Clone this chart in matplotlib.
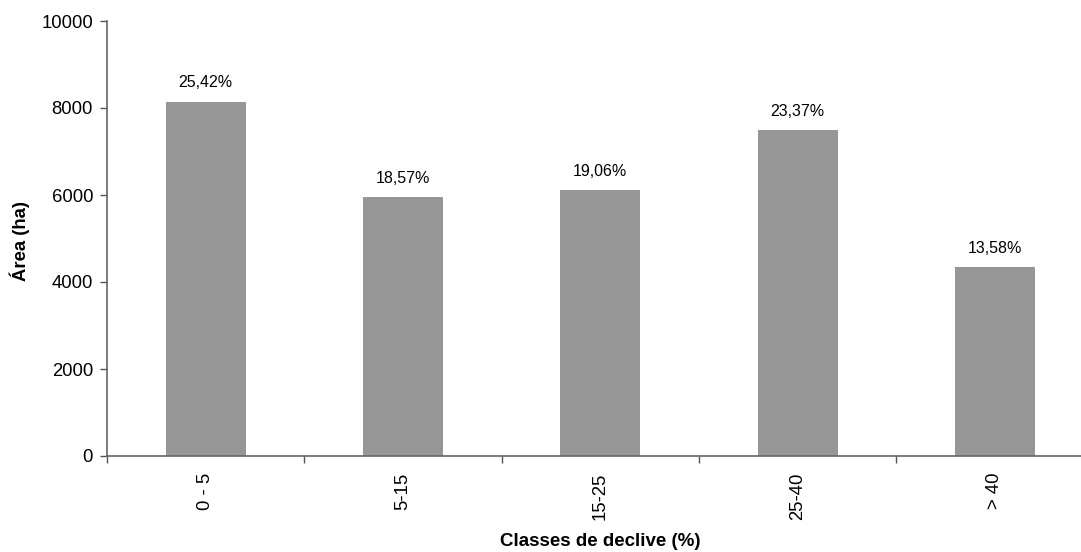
import numpy as np
import matplotlib.pyplot as plt

plt.rcParams['font.family'] = ['Liberation Sans', 'DejaVu Sans']

classes = ['0 - 5', '5-15', '15-25', '25-40', '> 40']
area_ha = [8147, 5952, 6109, 7490, 4352]
pct_labels = ['25,42%', '18,57%', '19,06%', '23,37%', '13,58%']

fig = plt.figure(figsize=(10.81, 5.52), dpi=100, facecolor='white')
ax = fig.add_axes([107 / 1081, 96 / 552, 986.5 / 1081, 435 / 552])

x = np.arange(len(classes))
bars = ax.bar(x, area_ha, width=0.405, color='#969696', zorder=2)

for b, lab in zip(bars, pct_labels):
    ax.annotate(lab, (b.get_x() + b.get_width() / 2, b.get_height()),
                xytext=(0, 8), textcoords='offset points',
                ha='center', va='bottom', fontsize=11.5)

ax.set_xlim(-0.5, len(classes) - 0.5)
ax.set_ylim(0, 10000)
ax.set_yticks(np.arange(0, 10001, 2000))

# category labels at centres, tick marks between categories
ax.set_xticks(x)
ax.set_xticklabels(classes, rotation=90, fontsize=13.3)
ax.set_xticks(np.arange(-0.5, len(classes), 1), minor=True)
ax.tick_params(axis='x', which='major', length=0, pad=12)
ax.tick_params(axis='x', which='minor', length=5, width=1, color='#555555', direction='out')
ax.tick_params(axis='y', length=5, width=1, color='#555555', pad=5, labelsize=13.3)

for s in ['top', 'right']:
    ax.spines[s].set_visible(False)
for s in ['left', 'bottom']:
    ax.spines[s].set_color('#666666')
    ax.spines[s].set_linewidth(1.2)

fig.text(600 / 1081, 1 - 542 / 552, 'Classes de declive (%)', ha='center', va='center',
         fontsize=13.5, fontweight='bold')
fig.text(20 / 1081, 1 - 241 / 552, 'Área (ha)', ha='center', va='center',
         rotation=90, fontsize=13.3, fontweight='bold')

fig.savefig('out.png', dpi=100)
